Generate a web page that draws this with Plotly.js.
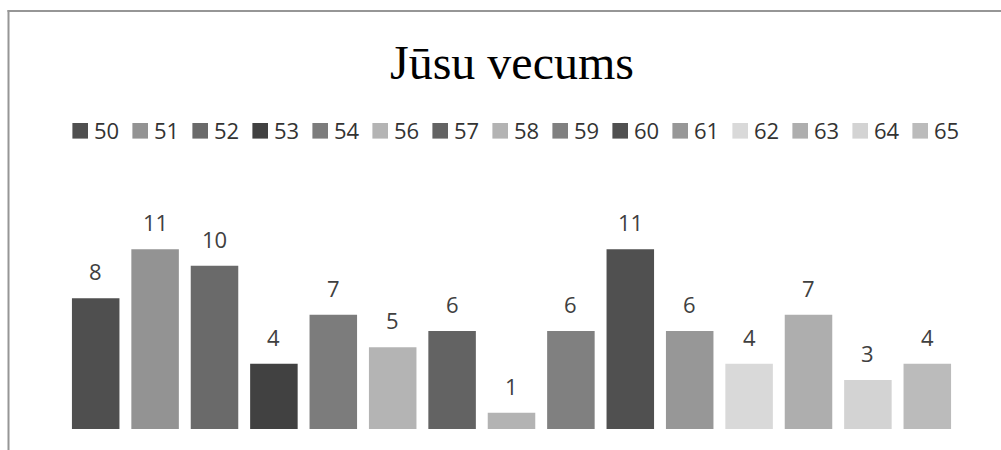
<!DOCTYPE html>
<html>
<head>
<meta charset="utf-8">
<script src="https://cdn.plot.ly/plotly-3.0.1.min.js"></script>
<style>html,body{margin:0;padding:0;background:#fff;}#chart{width:1001px;height:450px;}</style>
</head>
<body>
<div id="chart"></div>
<script>
const ages = ["50","51","52","53","54","56","57","58","59","60","61","62","63","64","65"];
const counts = [8, 11, 10, 4, 7, 5, 6, 1, 6, 11, 6, 4, 7, 3, 4];
const colors = ["#4f4f4f","#939393","#6a6a6a","#414141","#7c7c7c","#b4b4b4","#636363","#b3b3b3",
                "#808080","#505050","#979797","#d9d9d9","#aeaeae","#d3d3d3","#bbbbbb"];
const titleText = "Jūsu vecums";

const M = {l: 66, r: 44, t: 233, b: 21};
const W = 1001 - M.l - M.r, H = 450 - M.t - M.b;
const px2x = p => (p - M.l) / W;
const py2y = p => (450 - M.b - p) / H;

const traces = ages.map((a, i) => ({
  type: 'bar', name: a, x: [a], y: [counts[i]],
  marker: {color: colors[i], line: {width: 0}},
  hoverinfo: 'none'
}));

const annotations = counts.map((v, i) => ({
  x: i, y: v, xref: 'x', yref: 'y', text: String(v),
  showarrow: false, yanchor: 'bottom', yshift: 10,
  font: {family: 'Open Sans', size: 22, color: '#404040'}
}));

const layout = {
  width: 1001, height: 450,
  margin: M,
  paper_bgcolor: 'rgba(0,0,0,0)', plot_bgcolor: 'rgba(0,0,0,0)',
  barmode: 'overlay', bargap: 0.2,
  title: {text: titleText, font: {family: 'Liberation Serif', size: 48, color: '#000'},
          x: 512/1001, xref: 'container', xanchor: 'center',
          y: 1 - 62/450, yref: 'container', yanchor: 'middle'},
  showlegend: true,
  legend: {orientation: 'h', xref: 'paper', x: px2x(54), xanchor: 'left',
           yref: 'paper', y: py2y(131), yanchor: 'middle',
           font: {family: 'Open Sans', size: 22, color: '#333'},
           entrywidth: 15, entrywidthmode: 'pixels', itemclick: false, itemdoubleclick: false,
           bgcolor: 'rgba(0,0,0,0)'},
  xaxis: {type: 'category', categoryorder: 'array', categoryarray: ages, range: [-0.5, 14.5],
          showticklabels: false, showgrid: false, zeroline: false, showline: false, ticks: ''},
  yaxis: {range: [0, 12], showticklabels: false, showgrid: false, zeroline: false, showline: false, ticks: ''},
  annotations: annotations,
  shapes: [
    {type: 'line', xref: 'paper', yref: 'paper', x0: px2x(8.5), x1: px2x(8.5), y0: py2y(10), y1: py2y(470),
     line: {color: '#969696', width: 2}},
    {type: 'line', xref: 'paper', yref: 'paper', x0: px2x(7.5), x1: px2x(1020), y0: py2y(11), y1: py2y(11),
     line: {color: '#969696', width: 2}}
  ]
};

const gd = document.getElementById('chart');
function fixLegend() {
  try {
    gd.querySelectorAll('.legend [clip-path]').forEach(el => el.removeAttribute('clip-path'));
    gd.querySelectorAll('.legend g.traces').forEach(item => {
      const path = item.querySelector('g.legendpoints path');
      const txt = item.querySelector('text.legendtext');
      if (!path || !txt || path.getAttribute('data-fixed')) return;
      path.setAttribute('d', 'M7.8,7.8H-7.8V-7.8H7.8Z');
      const pb = path.getBoundingClientRect();
      const tb = txt.getBoundingClientRect();
      const targetCenter = tb.left - 6 - 7.8;
      const dx = targetCenter - (pb.left + pb.width / 2);
      const prev = path.getAttribute('transform') || '';
      path.setAttribute('transform', prev + ' translate(' + dx.toFixed(2) + ',0)');
      path.setAttribute('data-fixed', '1');
    });
  } catch (e) { console.error(e); }
}
Plotly.newPlot(gd, traces, layout, {staticPlot: true, displayModeBar: false}).then(() => {
  fixLegend();
  if (gd.on) gd.on('plotly_afterplot', fixLegend);
});
[0, 30, 100, 300].forEach(t => setTimeout(fixLegend, t));
</script>
</body>
</html>
